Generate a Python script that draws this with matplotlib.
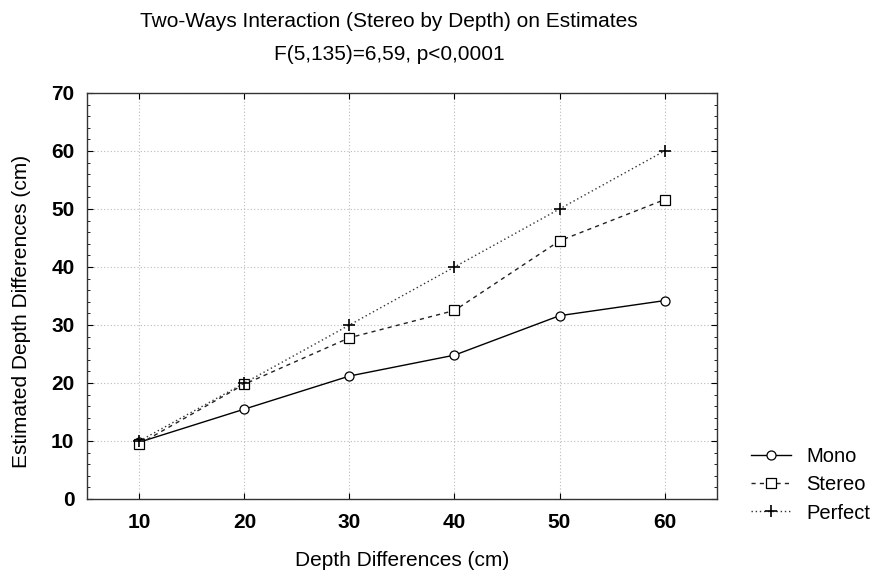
import matplotlib
matplotlib.use("Agg")
import matplotlib.pyplot as plt
from matplotlib.ticker import MultipleLocator

depth = [10, 20, 30, 40, 50, 60]
mono = [9.8, 15.5, 21.2, 24.8, 31.6, 34.2]
stereo = [9.5, 19.8, 27.8, 32.5, 44.5, 51.6]
perfect = [10, 20, 30, 40, 50, 60]

plt.rcParams['font.family'] = ['Liberation Sans', 'DejaVu Sans']

fig = plt.figure(figsize=(8.76, 5.76), dpi=100)
ax = fig.add_axes([0.0993, 0.1337, 0.7192, 0.7049])

ax.plot(depth, mono, color='black', lw=1.0, linestyle='-', marker='o',
        markersize=6.5, markerfacecolor='white', markeredgecolor='black', markeredgewidth=0.9,
        label='Mono', zorder=3)
ax.plot(depth, stereo, color='#222222', lw=1.0, linestyle=(0, (3, 3)), marker='s',
        markersize=6.5, markerfacecolor='white', markeredgecolor='black', markeredgewidth=0.9,
        label='Stereo', zorder=3)
ax.plot(depth, perfect, color='#333333', lw=1.0, linestyle=(0, (1, 2)), marker='+',
        markersize=9, markeredgewidth=1.2, markeredgecolor='black', label='Perfect', zorder=3)

ax.set_xlim(5, 65)
ax.set_ylim(0, 70)
ax.set_xticks(depth)
ax.yaxis.set_major_locator(MultipleLocator(10))
ax.yaxis.set_minor_locator(MultipleLocator(2))
ax.tick_params(axis='both', which='both', direction='in', top=True, right=True)
ax.tick_params(axis='both', which='major', length=4, labelsize=15)
ax.tick_params(axis='x', which='major', pad=10)
ax.tick_params(axis='y', which='major', pad=9)
ax.tick_params(axis='both', which='minor', length=2)
for lab in ax.get_xticklabels() + ax.get_yticklabels():
    lab.set_fontweight('bold')

ax.grid(True, which='major', color='#bbbbbb', linestyle=(0, (1, 2)), lw=0.8)
for sp in ax.spines.values():
    sp.set_color('#333333')
    sp.set_linewidth(1.0)

ax.set_xlabel('Depth Differences (cm)', fontsize=15, labelpad=14)
ax.set_ylabel('Estimated Depth Differences (cm)', fontsize=15)
ax.yaxis.set_label_coords(-0.089, 0.463)

fig.text(0.444, 0.962, 'Two-Ways Interaction (Stereo by Depth) on Estimates',
         ha='center', va='center', fontsize=15)
fig.text(0.444, 0.905, 'F(5,135)=6,59, p<0,0001', ha='center', va='center', fontsize=15)

leg = ax.legend(loc='lower left', bbox_to_anchor=(1.0255, -0.1026), frameon=False,
                fontsize=14.5, handlelength=2.0, handletextpad=0.75, labelspacing=0.45)

fig.savefig('out.png', dpi=100)
